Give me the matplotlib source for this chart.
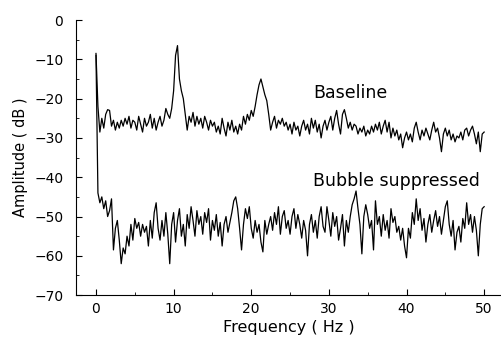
import numpy as np
import matplotlib
matplotlib.use("Agg")
import matplotlib.pyplot as plt
from matplotlib.ticker import MultipleLocator

# frequency grid (Hz), 0.25 Hz steps
freq = np.arange(0, 50.001, 0.25)

# amplitude (dB)
baseline = [
    -8.5, -22, -28.5, -25, -27.5, -24, -22.8, -23, -27, -25.5, -28, -26, -27.5, -25.5, -27, -25, -26.5, -24.5, -27.5, -25.5,
    -26, -28, -24.5, -26.5, -28.5, -25, -27, -26, -24, -27.5, -25, -28, -26, -24.5, -27, -25.5, -22.5, -24, -25, -22.5,
    -18, -9, -6.5, -15, -18, -20, -24, -28, -24.5, -26, -23.5, -27, -24.5, -26.5, -25, -27.5, -24.5, -26, -28, -25.5,
    -27, -26, -28.5, -27, -29, -25, -27.5, -29.5, -26, -28, -25.5, -28.5, -27, -29, -26.5, -28, -24.5, -26.5, -24, -25.5,
    -23, -24.5, -22, -19, -16.5, -15, -17, -19, -20.5, -24, -28, -26, -24.5, -27.5, -25.5, -26.5, -25, -27, -26, -28,
    -26.5, -29, -26, -28, -27, -29.5, -27, -25.5, -28, -26.5, -29, -25, -27.5, -25.5, -28.5, -26.5, -30, -27, -25.5, -28,
    -26, -24.5, -28, -25, -23, -26.5, -29, -24, -22.8, -25, -27.5, -26, -28, -26.5, -27, -29, -27.5, -28.5, -27, -29.5,
    -28, -29, -27, -28.5, -26.5, -28, -26, -29, -27, -25.5, -28.5, -26, -30, -27.5, -29.5, -28, -30.5, -29, -32.5, -30,
    -28.5, -30.5, -29, -31, -27.5, -26, -28.5, -30.5, -28, -29.5, -27.5, -29, -30.5, -28, -26, -28.5, -27.5, -30, -33.5, -29,
    -27.5, -29.5, -28, -30.5, -29, -31, -29.5, -30, -28.5, -30.5, -28, -27.5, -29.5, -28, -27, -29, -31.5, -28.5, -33.5, -29,
    -28.5,
]

bubble = [
    -9, -44, -46.5, -45, -48, -46, -50, -48.5, -45.5, -58.5, -53, -51, -56, -62, -58, -59.5, -55, -57.5, -52, -56,
    -50.5, -53, -51.5, -55, -52, -54, -52.5, -57.5, -51, -55.5, -49, -46.5, -53, -56, -51, -55, -49, -54.5, -62, -52,
    -49, -56.5, -51, -48, -55, -52, -57.5, -49.5, -53, -47.5, -51, -55, -48.5, -52, -50, -54.5, -49, -51.5, -48, -56,
    -51, -53.5, -49.5, -55, -51.5, -57.5, -52, -50, -54, -51.5, -49, -46, -45, -48, -53, -58.5, -52, -48, -50.5, -47.5,
    -53, -55.5, -51, -54, -52, -56.5, -59, -51, -54.5, -52, -50, -53.5, -49, -52, -47.5, -54.5, -50, -48.5, -53, -51,
    -54.5, -50, -48, -53, -49.5, -52, -55.5, -51, -53.5, -60, -52, -49.5, -54, -51, -55.5, -50, -47.5, -52.5, -54, -47.5,
    -51, -55, -49, -52.5, -50, -56, -53, -49.5, -57.5, -51, -54, -50, -47, -45.5, -43.5, -48, -52, -59.5, -50, -47,
    -49.5, -53, -51, -58.5, -46, -52, -50, -55, -49.5, -53.5, -51, -55.5, -48, -51.5, -50, -54, -52.5, -56, -53, -57.5,
    -60.5, -53, -55.5, -49, -52, -45.5, -51, -48, -53.5, -50.5, -56.5, -52, -49.5, -54, -51, -48.5, -52.5, -50, -54.5, -51,
    -47.5, -46, -52, -55, -51, -58.5, -54, -52.5, -56.5, -50.5, -53, -46.5, -52, -49.5, -54, -50, -53.5, -60, -52, -48,
    -47.5,
]

fig = plt.figure(figsize=(5.02, 3.4), dpi=100)
ax = fig.add_axes([0.151, 0.132, 0.849, 0.809])

ax.plot(freq, baseline, color="black", lw=0.9)
ax.plot(freq, bubble, color="black", lw=0.9)

ax.text(28, -18.5, "Baseline", fontsize=12.5, va="center")
ax.text(28, -41, "Bubble suppressed", fontsize=12.5, va="center")

ax.set_xlim(-2.6, 52.3)
ax.set_ylim(-70, 0)
ax.xaxis.set_major_locator(MultipleLocator(10))
ax.xaxis.set_minor_locator(MultipleLocator(5))
ax.yaxis.set_major_locator(MultipleLocator(10))
ax.yaxis.set_minor_locator(MultipleLocator(5))
ax.tick_params(which="both", direction="in", labelsize=10)
ax.tick_params(which="major", length=4)
ax.tick_params(which="minor", length=2)
ax.tick_params(axis="y", pad=9)
ax.tick_params(axis="x", pad=5)
ax.spines["top"].set_visible(False)
ax.spines["right"].set_visible(False)

ax.set_xlabel("Frequency ( Hz )", fontsize=11.5, labelpad=3)
ax.set_ylabel("Amplitude ( dB )", fontsize=10.5, labelpad=4)

fig.savefig("out.png", dpi=100)
